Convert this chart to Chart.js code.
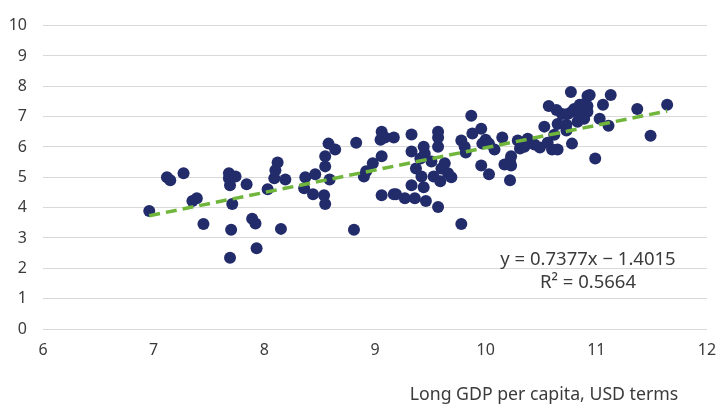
<!DOCTYPE html>
<html>
<head>
<meta charset="utf-8">
<script src="https://cdn.jsdelivr.net/npm/chart.js@4/dist/chart.umd.min.js"></script>
<style>
  html, body { margin: 0; padding: 0; background: #ffffff; }
  #wrap { width: 719px; height: 408px; }
</style>
</head>
<body>
<div id="wrap"><canvas id="chart" width="719" height="408"></canvas></div>
<script>
// Log GDP per capita (x) for each country
const gdpPerCapita = [
  6.96, 7.12, 7.15, 7.27, 7.35, 7.39, 7.45, 7.68, 7.68, 7.74,
  7.69, 7.71, 7.70, 7.69, 7.84, 7.89, 7.92, 7.93, 8.03, 8.09,
  8.10, 8.12, 8.19, 8.15, 8.37, 8.46, 8.36, 8.44, 8.54, 8.55,
  8.58, 8.64, 8.55, 8.55, 8.59, 8.83, 8.81, 8.90, 8.92, 8.98,
  9.06, 9.05, 9.09, 9.17, 9.06, 9.06, 9.17, 9.19, 9.27, 9.36,
  9.33, 9.33, 9.33, 9.44, 9.45, 9.41, 9.51, 9.37, 9.42, 9.44,
  9.46, 9.57, 9.57, 9.57, 9.63, 9.60, 9.66, 9.53, 9.59, 9.69,
  9.57, 9.78, 9.78, 9.81, 9.82, 9.87, 9.88, 9.96, 10.00, 9.97,
  10.03, 10.08, 10.15, 9.96, 10.03, 10.17, 10.22, 10.23, 10.23, 10.22,
  10.29, 10.31, 10.35, 10.38, 10.44, 10.49, 10.56, 10.53, 10.62, 10.60,
  10.65, 10.65, 10.73, 10.57, 10.64, 10.69, 10.74, 10.78, 10.80, 10.77,
  10.78, 10.83, 10.86, 10.85, 10.73, 10.89, 10.92, 10.94, 10.92, 10.92,
  10.89, 10.99, 11.03, 11.06, 11.11, 11.13, 11.37, 11.49, 11.64
];

// Matching y value for each country
const outcomeValues = [
  3.89, 5.00, 4.90, 5.13, 4.22, 4.31, 3.46, 5.13, 4.97, 5.03,
  4.74, 4.12, 3.27, 2.35, 4.77, 3.63, 3.48, 2.66, 4.61, 4.97,
  5.23, 5.49, 4.93, 3.30, 5.00, 5.10, 4.64, 4.44, 4.41, 4.12,
  6.11, 5.92, 5.69, 5.36, 4.93, 6.14, 3.27, 5.03, 5.20, 5.46,
  6.50, 6.24, 6.31, 6.31, 5.69, 4.41, 4.44, 4.44, 4.31, 4.31,
  6.41, 5.85, 4.74, 6.01, 5.78, 5.62, 5.52, 5.29, 5.03, 4.67,
  4.22, 6.50, 6.31, 6.01, 5.46, 5.29, 5.13, 5.03, 4.87, 5.00,
  4.02, 3.46, 6.21, 6.01, 5.82, 7.03, 6.44, 6.60, 6.24, 6.11,
  6.11, 5.92, 6.31, 5.39, 5.10, 5.42, 5.52, 5.69, 5.39, 4.90,
  6.21, 5.95, 6.01, 6.27, 6.08, 5.98, 6.14, 6.67, 6.40, 5.92,
  5.92, 6.76, 6.73, 7.35, 7.22, 7.09, 7.09, 7.16, 7.25, 7.81,
  6.11, 6.83, 7.06, 7.39, 6.54, 7.42, 7.68, 7.71, 7.35, 7.16,
  6.93, 5.62, 6.93, 7.39, 6.70, 7.71, 7.25, 6.37, 7.39
];

const xTickValues = [6, 7, 8, 9, 10, 11, 12];
const yTickValues = [0, 1, 2, 3, 4, 5, 6, 7, 8, 9, 10];

// Linear trendline coefficients
const trendSlope = 0.7377;
const trendIntercept = -1.4015;
const trendRSquared = 0.5664;

const xAxisTitle = 'Long GDP per capita, USD terms';

const pointColor = '#232c6b';
const trendColor = '#70b53c';
const textColor = '#3b3b3b';
const gridColor = '#d9d9d9';
const fontFamily = '"Noto Sans", "Open Sans", sans-serif';

const scatterPoints = gdpPerCapita.map((x, i) => ({ x: x, y: outcomeValues[i] }));

const xMin = Math.min(...gdpPerCapita);
const xMax = Math.max(...gdpPerCapita);
const trendPoints = [xMin, xMax].map(x => ({ x: x, y: trendSlope * x + trendIntercept }));

const equationText = 'y = ' + trendSlope.toFixed(4) + 'x \u2212 ' + Math.abs(trendIntercept).toFixed(4);
const rSquaredText = 'R\u00B2 = ' + trendRSquared.toFixed(4);

// Trendline equation and horizontal axis title
const textLayer = {
  id: 'textLayer',
  afterDatasetsDraw(chart) {
    const { ctx, chartArea } = chart;
    ctx.save();
    ctx.fillStyle = textColor;
    ctx.textAlign = 'center';
    ctx.textBaseline = 'middle';
    ctx.font = '18.5px ' + fontFamily;
    ctx.fillText(equationText, chartArea.right - 119, chartArea.top + 234);
    ctx.fillText(rSquaredText, chartArea.right - 119, chartArea.top + 257);
    ctx.font = '17.7px ' + fontFamily;
    ctx.fillText(xAxisTitle, chartArea.right - 163, chartArea.bottom + 66);
    ctx.restore();
  }
};

new Chart(document.getElementById('chart'), {
  type: 'scatter',
  data: {
    datasets: [
      {
        type: 'line',
        label: 'Trend',
        data: trendPoints,
        borderColor: trendColor,
        borderWidth: 3.5,
        borderDash: [11, 6],
        pointRadius: 0,
        fill: false,
        order: 0
      },
      {
        label: 'Countries',
        data: scatterPoints,
        backgroundColor: pointColor,
        borderWidth: 0,
        pointRadius: 6,
        pointHoverRadius: 6,
        order: 1
      }
    ]
  },
  options: {
    responsive: false,
    devicePixelRatio: 1,
    animation: false,
    layout: { padding: { top: 23, right: 2, bottom: 0, left: 0 } },
    plugins: {
      legend: { display: false },
      tooltip: { enabled: false }
    },
    scales: {
      x: {
        type: 'linear',
        min: 6,
        max: 12,
        afterBuildTicks(scale) { scale.ticks = xTickValues.map(v => ({ value: v })); },
        afterFit(scale) {
          scale.height = 79;
          scale.paddingLeft = 0;
          scale.paddingRight = 12;
        },
        grid: { display: false, drawTicks: false },
        border: { display: false },
        ticks: {
          padding: 12,
          color: textColor,
          font: { family: fontFamily, size: 16 }
        }
      },
      y: {
        type: 'linear',
        min: 0,
        max: 10,
        afterBuildTicks(scale) { scale.ticks = yTickValues.map(v => ({ value: v })); },
        afterFit(scale) { scale.width = 43; },
        grid: { color: gridColor, lineWidth: 1, drawTicks: false },
        border: { display: false },
        ticks: {
          padding: 16,
          color: textColor,
          font: { family: fontFamily, size: 16 }
        }
      }
    }
  },
  plugins: [textLayer]
});
</script>
</body>
</html>
